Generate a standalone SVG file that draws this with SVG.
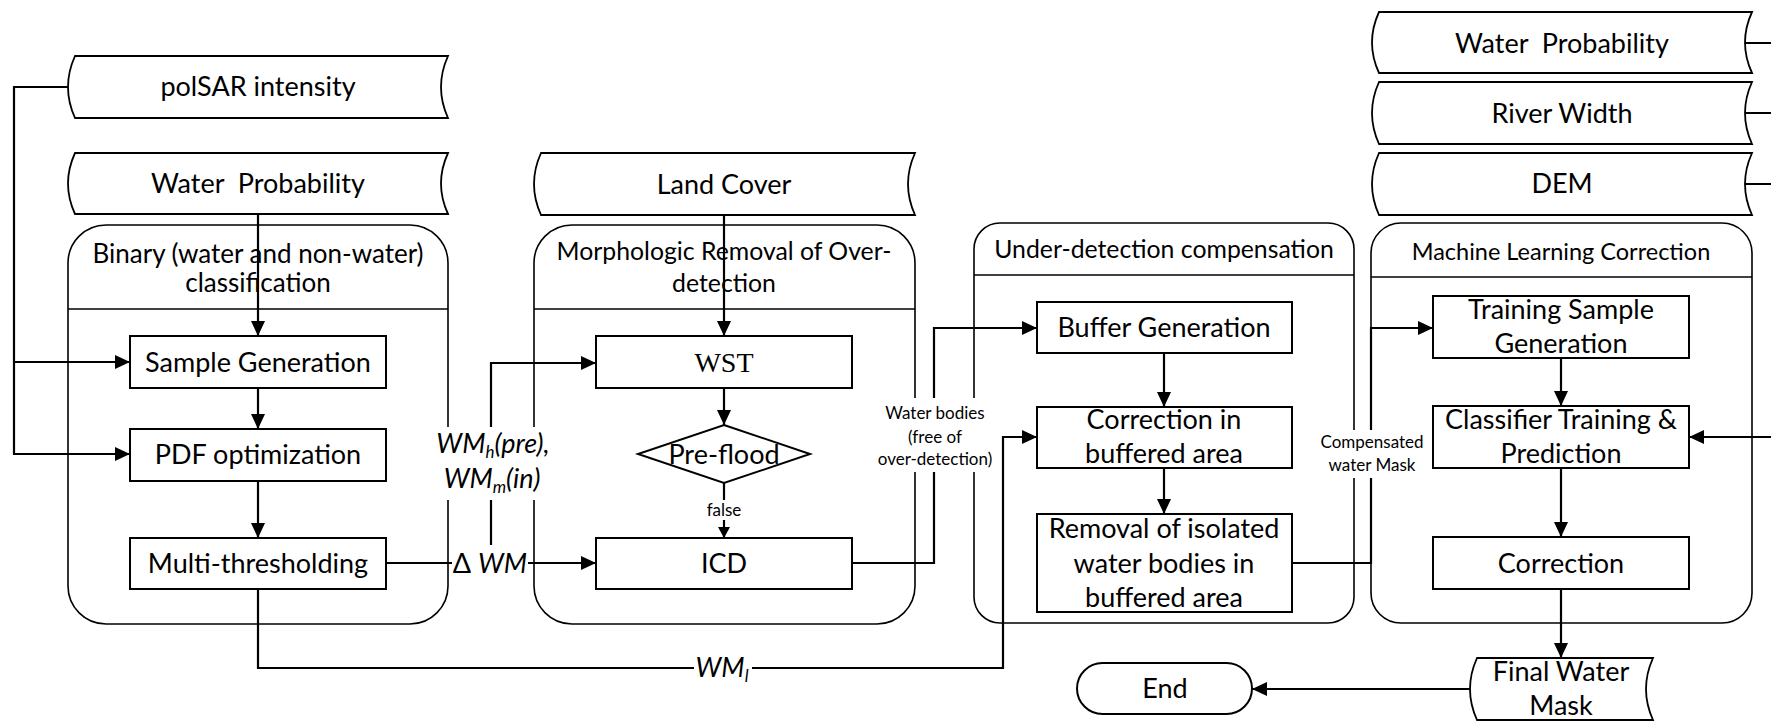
<svg xmlns="http://www.w3.org/2000/svg" width="1771" height="721" viewBox="0 0 1771 721">
<style>
.box{fill:#fff;stroke:#000;stroke-width:2}
.cont{fill:#fff;stroke:#000;stroke-width:1.6}
.data{fill:#fff;stroke:#000;stroke-width:1.8}
.ln{fill:none;stroke:#000;stroke-width:2.2}
.hl{stroke:#000;stroke-width:1.6}
text{font-family:Lato,"Liberation Sans",sans-serif;fill:#000;text-anchor:middle}
.t{font-size:27px}
.h{font-size:26px}
.h2{font-size:24.8px}
.hs{font-size:23.5px}
.s{font-size:17px}
.it{font-size:27px;font-style:italic}
.serif{font-family:"Liberation Serif",serif;font-size:28px}
.bg{fill:#fff;stroke:none}
</style>
<defs>
<marker id="arr" markerUnits="userSpaceOnUse" markerWidth="15" markerHeight="14" refX="15" refY="7" orient="auto">
<path d="M0,0 L15,7 L0,14 Z" fill="#000"/>
</marker>
<marker id="arrs" markerUnits="userSpaceOnUse" markerWidth="11" markerHeight="12" refX="11" refY="6" orient="auto">
<path d="M0,0 L11,6 L0,12 Z" fill="#000"/>
</marker>
</defs>

<g id="polsar">
<path class="data" d="M75,56 H448 Q434,87 448,118 H75 Q61,87 75,56 Z"/>
<text class="t" x="258" y="96">polSAR intensity</text>
</g>
<g id="waterprob-left">
<path class="data" d="M75,153 H448 Q434,183.5 448,214 H75 Q61,183.5 75,153 Z"/>
<text class="t" x="258" y="193" xml:space="preserve">Water  Probability</text>
</g>
<g id="landcover">
<path class="data" d="M541,153 H915 Q901,184 915,215 H541 Q527,184 541,153 Z"/>
<text class="t" x="724" y="194">Land Cover</text>
</g>
<g id="waterprob-right">
<path class="data" d="M1379,12 H1752 Q1738,42.5 1752,73 H1379 Q1365,42.5 1379,12 Z"/>
<text class="t" x="1562" y="53" xml:space="preserve">Water  Probability</text>
</g>
<g id="riverwidth">
<path class="data" d="M1379,82 H1752 Q1738,113 1752,144 H1379 Q1365,113 1379,82 Z"/>
<text class="t" x="1562" y="123">River Width</text>
</g>
<g id="dem">
<path class="data" d="M1379,153 H1752 Q1738,184 1752,215 H1379 Q1365,184 1379,153 Z"/>
<text class="t" x="1562" y="193">DEM</text>
</g>

<g id="binary-container">
<rect class="cont" x="68" y="225" width="380" height="399" rx="38"/>
<line class="hl" x1="68" y1="309" x2="448" y2="309"/>
<text class="h" x="258" y="263">Binary (water and non-water)</text>
<text class="h" x="258" y="292">classification</text>
</g>
<g id="morph-container">
<rect class="cont" x="534" y="225" width="381" height="399" rx="38"/>
<line class="hl" x1="534" y1="309" x2="915" y2="309"/>
<text class="h2" x="724" y="260">Morphologic Removal of Over-</text>
<text class="h2" x="724" y="292">detection</text>
</g>
<g id="under-container">
<rect class="cont" x="974" y="223" width="380" height="400" rx="26"/>
<line class="hl" x1="974" y1="275" x2="1354" y2="275"/>
<text class="h2" x="1164" y="258">Under-detection compensation</text>
</g>
<g id="ml-container">
<rect class="cont" x="1371" y="223" width="381" height="400" rx="30"/>
<line class="hl" x1="1371" y1="277" x2="1752" y2="277"/>
<text class="hs" x="1561" y="260">Machine Learning Correction</text>
</g>

<g id="sample-generation">
<rect class="box" x="130" y="336" width="256" height="52"/>
<text class="t" x="258" y="372">Sample Generation</text>
</g>
<g id="pdf-optimization">
<rect class="box" x="130" y="429" width="256" height="52"/>
<text class="t" x="258" y="464">PDF optimization</text>
</g>
<g id="multi-thresholding">
<rect class="box" x="130" y="538" width="256" height="51"/>
<text class="t" x="258" y="573">Multi-thresholding</text>
</g>
<g id="wst">
<rect class="box" x="596" y="336" width="256" height="52"/>
<text class="serif" x="724" y="372">WST</text>
</g>
<g id="preflood">
<polygon class="box" points="724,425 810,454 724,483 638,454"/>
<text class="t" x="724" y="464" font-size="26">Pre-flood</text>
</g>
<g id="icd">
<rect class="box" x="596" y="538" width="256" height="51"/>
<text class="t" x="724" y="573">ICD</text>
</g>
<g id="buffer-generation">
<rect class="box" x="1037" y="302" width="255" height="51"/>
<text class="t" x="1164" y="337">Buffer Generation</text>
</g>
<g id="correction-buffered">
<rect class="box" x="1037" y="407" width="255" height="61"/>
<text class="t" x="1164" y="429">Correction in</text>
<text class="t" x="1164" y="463">buffered area</text>
</g>
<g id="removal-isolated">
<rect class="box" x="1037" y="514" width="255" height="98"/>
<text class="t" x="1164" y="538">Removal of isolated</text>
<text class="t" x="1164" y="573">water bodies in</text>
<text class="t" x="1164" y="607">buffered area</text>
</g>
<g id="training-sample">
<rect class="box" x="1433" y="296" width="256" height="62"/>
<text class="t" x="1561" y="319">Training Sample</text>
<text class="t" x="1561" y="353">Generation</text>
</g>
<g id="classifier">
<rect class="box" x="1433" y="406" width="256" height="62"/>
<text class="t" x="1561" y="429">Classifier Training &amp;</text>
<text class="t" x="1561" y="463">Prediction</text>
</g>
<g id="correction">
<rect class="box" x="1433" y="537" width="256" height="52"/>
<text class="t" x="1561" y="573">Correction</text>
</g>
<g id="final-water-mask">
<path class="data" d="M1477,658 H1653 Q1639,689 1653,720 H1477 Q1463,689 1477,658 Z"/>
<text class="t" x="1561" y="681">Final Water</text>
<text class="t" x="1561" y="715">Mask</text>
</g>
<g id="end">
<rect class="box" x="1077" y="663" width="175" height="51" rx="25.5"/>
<text class="t" x="1165" y="698">End</text>
</g>

<g id="connectors">
<path class="ln" d="M68,87 H14 V454 H130" marker-end="url(#arr)"/>
<path class="ln" d="M14,362 H130" marker-end="url(#arr)"/>
<path class="ln" d="M258,214 V336" marker-end="url(#arr)"/>
<path class="ln" d="M258,388 V429" marker-end="url(#arr)"/>
<path class="ln" d="M258,481 V538" marker-end="url(#arr)"/>
<path class="ln" d="M386,563 H452"/>
<path class="ln" d="M528,563 H596" marker-end="url(#arr)"/>
<path class="ln" d="M491,545 V363 H596" marker-end="url(#arr)"/>
<path class="ln" d="M258,589 V668 H1003 V437 H1037" marker-end="url(#arr)"/>
<path class="ln" d="M724,215 V336" marker-end="url(#arr)"/>
<path class="ln" d="M724,388 V425" marker-end="url(#arr)"/>
<path class="ln" d="M724,483 V538" marker-end="url(#arrs)"/>
<path class="ln" d="M852,563 H934 V328 H1037" marker-end="url(#arr)"/>
<path class="ln" d="M1164,353 V407" marker-end="url(#arr)"/>
<path class="ln" d="M1164,468 V514" marker-end="url(#arr)"/>
<path class="ln" d="M1292,563 H1371 V328 H1433" marker-end="url(#arr)"/>
<path class="ln" d="M1561,358 V406" marker-end="url(#arr)"/>
<path class="ln" d="M1561,468 V537" marker-end="url(#arr)"/>
<path class="ln" d="M1561,589 V658" marker-end="url(#arr)"/>
<path class="ln" d="M1470,689 H1252" marker-end="url(#arr)"/>
<path class="ln" d="M1745,43 H1771 M1745,113 H1771 M1745,184 H1771"/>
<path class="ln" d="M1771,437 H1689" marker-end="url(#arr)"/>

<rect class="bg" x="428" y="427" width="130" height="73"/>
<text class="it" x="493" y="453">WM<tspan font-size="17" dy="5">h</tspan><tspan dy="-5">(pre),</tspan></text>
<text class="it" x="492" y="488">WM<tspan font-size="17" dy="5">m</tspan><tspan dy="-5">(in)</tspan></text>
<text class="t" x="490" y="573"><tspan>Δ </tspan><tspan font-style="italic">WM</tspan></text>
<rect class="bg" x="694" y="650" width="58" height="34"/>
<text class="it" x="722" y="677">WM<tspan font-size="17" dy="5">l</tspan></text>
<rect class="bg" x="706" y="500" width="36" height="20"/>
<text class="s" x="724" y="516">false</text>
<rect class="bg" x="872" y="398" width="126" height="74"/>
<text class="s" x="935" y="419">Water bodies</text>
<text class="s" x="935" y="443">(free of</text>
<text class="s" x="935" y="465">over-detection)</text>
<rect class="bg" x="1315" y="430" width="114" height="48"/>
<text class="s" x="1372" y="448">Compensated</text>
<text class="s" x="1372" y="471">water Mask</text>
</g>
</svg>
